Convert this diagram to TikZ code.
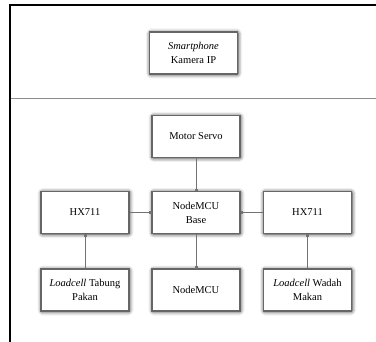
\documentclass[tikz,border=0pt]{standalone}
\usepackage{fontspec}
\setmainfont{Liberation Serif}
\usetikzlibrary{arrows.meta,shadows.blur}

\begin{document}
\begin{tikzpicture}[x=1pt,y=-1pt,
    blok/.style={draw=black!60, line width=1.2pt, fill=white, minimum width=88pt, minimum height=42pt,
        align=center, font=\fontsize{10.5}{14}\selectfont,
        blur shadow={shadow xshift=0.5pt, shadow yshift=-0.5pt, shadow blur radius=4pt, shadow blur extra rounding=1pt, shadow opacity=90}},
    panah/.style={draw=black!55, line width=0.5pt, -{Square[length=2.2pt,width=2.2pt]}}]
            \useasboundingbox (0,0) rectangle (376,342);
            % bingkai
            \draw[line width=2.2pt] (10,342) -- (10,5) -- (376,5);
            \draw[black!45, line width=0.6pt] (11,98) -- (376,98);

            \node[blok] (hp) at (193.5,53) {\textit{Smartphone}\\Kamera IP};

            \node[blok] (servo) at (196,136.5) {Motor Servo};
            \node[blok] (hxkiri) at (85,212.5) {HX711};
            \node[blok] (base) at (196,212.5) {NodeMCU\\Base};
            \node[blok] (hxkanan) at (307.5,212.5) {HX711};
            \node[blok] (lckiri) at (85,290) {\textit{Loadcell} Tabung\\Pakan};
            \node[blok] (mcu) at (196,290) {NodeMCU};
            \node[blok] (lckanan) at (307.5,290) {\textit{Loadcell} Wadah\\Makan};

            \draw[panah] (servo) -- (base);
            \draw[panah] (hxkiri) -- (base);
            \draw[panah] (hxkanan) -- (base);
            \draw[panah] (lckiri) -- (hxkiri);
            \draw[panah] (base) -- (mcu);
            \draw[panah] (lckanan) -- (hxkanan);
        \end{tikzpicture}
\end{document}
